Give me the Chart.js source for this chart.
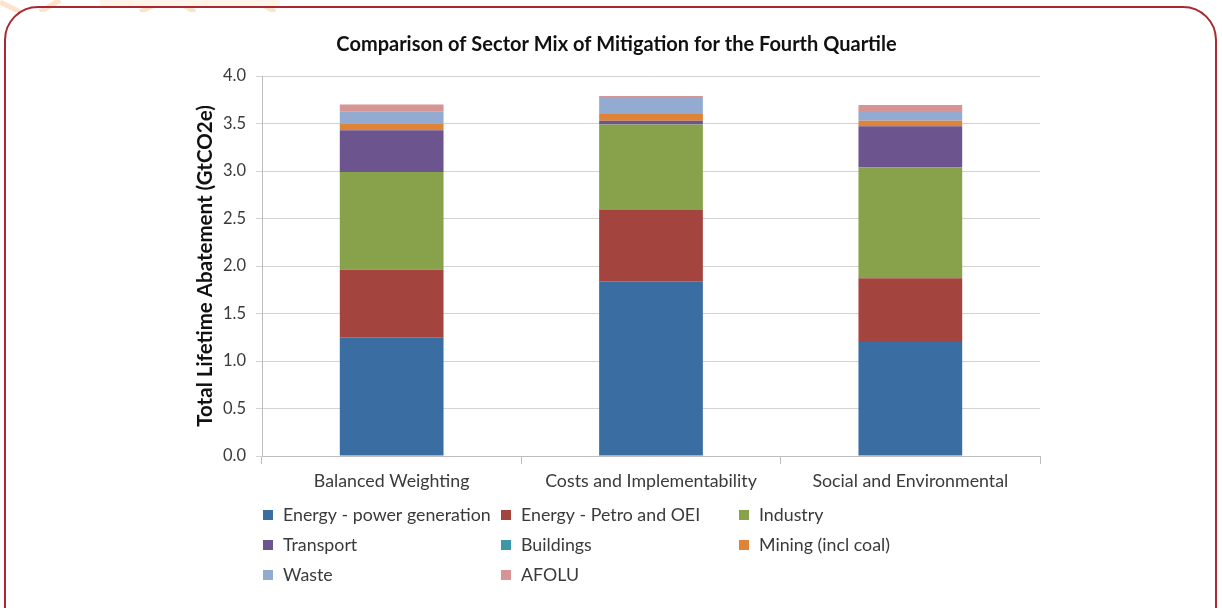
<!DOCTYPE html>
<html>
<head>
<meta charset="utf-8">
<title>Comparison of Sector Mix of Mitigation for the Fourth Quartile</title>
<script src="https://cdn.jsdelivr.net/npm/chart.js@4/dist/chart.umd.min.js"></script>
<style>
  html, body { margin: 0; padding: 0; background: #ffffff; overflow: hidden; }
  #wrap { position: relative; width: 1222px; height: 608px; overflow: hidden; background: #ffffff; }
  #deco { position: absolute; left: 0; top: 0; width: 1222px; height: 12px; }
  #frame {
    position: absolute; left: 4px; top: 6px; width: 1213px; height: 640px;
    border: 2px solid #a82a30; border-radius: 34px; box-sizing: border-box;
  }
  #chartBox { position: absolute; left: 0; top: 0; width: 1222px; height: 608px; }
</style>
</head>
<body>
<div id="wrap">
  <svg id="deco" width="1222" height="12">
    <g stroke="#fde3cc" stroke-width="5" fill="none">
      <line x1="0" y1="2" x2="20" y2="12"/>
      <line x1="40" y1="12" x2="60" y2="0"/>
      <line x1="140" y1="12" x2="165" y2="0"/>
      <line x1="175" y1="0" x2="195" y2="12"/>
      <line x1="255" y1="0" x2="275" y2="12"/>
    </g>
    <rect x="100" y="0" width="180" height="7" fill="#fff4ea"/>
  </svg>
  <div id="frame"></div>
  <div id="chartBox"><canvas id="chart"></canvas></div>
</div>
<script>
// Approaches compared
const categories = ['Balanced Weighting', 'Costs and Implementability', 'Social and Environmental'];

// Lifetime abatement by sector (GtCO2e)
const powerGeneration = [1.25, 1.84, 1.20];
const petroOEI        = [0.71, 0.75, 0.67];
const industry        = [1.03, 0.90, 1.17];
const transport       = [0.44, 0.04, 0.43];
const buildings       = [0.00, 0.00, 0.00];
const mining          = [0.07, 0.07, 0.06];
const waste           = [0.13, 0.18, 0.09];
const afolu           = [0.07, 0.01, 0.075];

const seriesNames = [
  'Energy - power generation', 'Energy - Petro and OEI', 'Industry',
  'Transport', 'Buildings', 'Mining (incl coal)', 'Waste', 'AFOLU'
];
const seriesValues = [powerGeneration, petroOEI, industry, transport, buildings, mining, waste, afolu];
const seriesColors = ['#3a6ea3', '#a3443f', '#87a24b', '#6c558f', '#3c97ab', '#df8437', '#94abd1', '#d69594'];

const yTicks = [0, 0.5, 1.0, 1.5, 2.0, 2.5, 3.0, 3.5, 4.0];

const FONT = 'Lato, "Open Sans", sans-serif';
const TEXT = '#3a3a3a';
const LABEL_SIZE = 17.8;

// Legend laid out as a three-column grid below the axis
const gridLegend = {
  id: 'gridLegend',
  afterDraw(chart) {
    const ctx = chart.ctx;
    const colX = [263, 501, 739];
    const rowY = [515, 545, 575];
    ctx.save();
    ctx.font = LABEL_SIZE + 'px ' + FONT;
    ctx.textBaseline = 'middle';
    ctx.textAlign = 'left';
    chart.data.datasets.forEach((ds, i) => {
      const x = colX[i % 3];
      const y = rowY[Math.floor(i / 3)];
      ctx.fillStyle = ds.backgroundColor;
      ctx.fillRect(x, y - 5, 10, 10);
      ctx.fillStyle = TEXT;
      ctx.fillText(ds.label, x + 20, y);
    });
    ctx.restore();
  }
};

new Chart(document.getElementById('chart'), {
  type: 'bar',
  data: {
    labels: categories,
    datasets: seriesNames.map((name, i) => ({
      label: name,
      data: seriesValues[i],
      backgroundColor: seriesColors[i],
      borderWidth: 0,
      categoryPercentage: 1.0,
      barPercentage: 0.4
    }))
  },
  options: {
    responsive: true,
    maintainAspectRatio: false,
    animation: false,
    layout: { padding: { left: 193, right: 182, top: 0, bottom: 102 } },
    plugins: {
      legend: { display: false },
      tooltip: { enabled: false },
      title: {
        display: true,
        text: 'Comparison of Sector Mix of Mitigation for the Fourth Quartile',
        color: '#111111',
        font: { family: FONT, size: 20, weight: 'bold' },
        padding: { top: 33, bottom: 19 }
      }
    },
    scales: {
      x: {
        stacked: true,
        offset: true,
        grid: {
          offset: true,
          drawOnChartArea: false,
          drawTicks: true,
          tickLength: 8,
          color: '#bdbdbd'
        },
        border: { color: '#bdbdbd', width: 1 },
        ticks: {
          color: TEXT,
          font: { family: FONT, size: LABEL_SIZE },
          padding: 7,
          maxRotation: 0
        },
        afterFit(scale) { scale.height = 50; }
      },
      y: {
        stacked: true,
        min: 0,
        max: 4,
        afterBuildTicks(scale) { scale.ticks = yTicks.map(v => ({ value: v })); },
        grid: { color: '#d3d3d3', tickLength: 6, drawTicks: true },
        border: { color: '#bdbdbd', width: 1 },
        ticks: {
          color: TEXT,
          font: { family: FONT, size: 16.5 },
          padding: 10,
          callback: v => Number(v).toFixed(1)
        },
        title: {
          display: true,
          text: 'Total Lifetime Abatement (GtCO2e)',
          color: '#111111',
          font: { family: FONT, size: 20.5, weight: 'bold' },
          padding: { top: 0, bottom: 0 }
        },
        afterFit(scale) { scale.width = 69; }
      }
    }
  },
  plugins: [gridLegend]
});
</script>
</body>
</html>
